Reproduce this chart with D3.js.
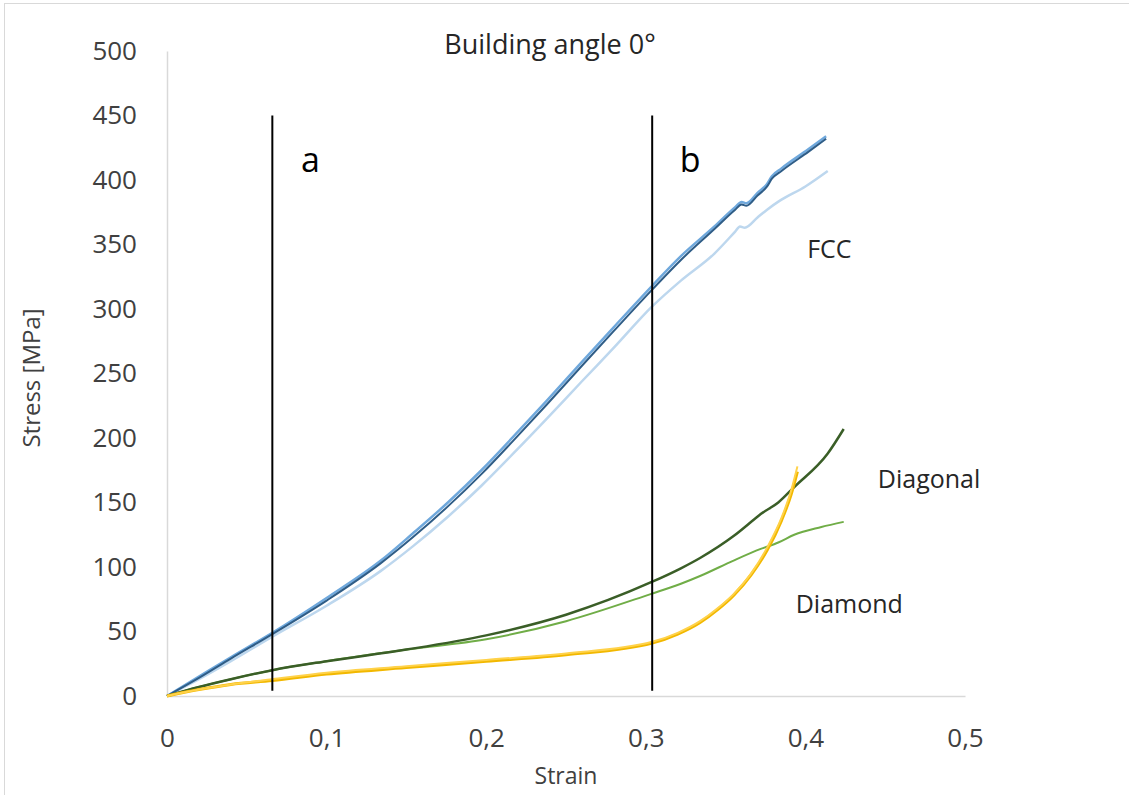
<!DOCTYPE html>
<html>
<head>
<meta charset="utf-8">
<script src="https://cdn.jsdelivr.net/npm/d3@7"></script>
<style>
  body { margin: 0; background: #fff; }
  svg text { font-family: "Open Sans", sans-serif; fill: #404040; }
</style>
</head>
<body>
<div id="wrapper"></div>
<script>
// tick values
const xTicks = [0, 0.1, 0.2, 0.3, 0.4, 0.5];
const yTicks = [0, 50, 100, 150, 200, 250, 300, 350, 400, 450, 500];

// FCC curves
const fccStrain = [0, 0.02, 0.04, 0.066, 0.1, 0.134, 0.154, 0.176, 0.197, 0.217, 0.238, 0.26, 0.28, 0.304, 0.322, 0.343, 0.356, 0.36, 0.363, 0.37, 0.376, 0.379, 0.385, 0.402, 0.413];
const fccDark = [0, 14, 29, 48, 74, 103, 123, 147, 172, 198, 226, 256, 283, 315, 338, 362, 377, 381, 380, 388, 395, 401, 407, 422, 432];
const fccMid = [0, 15, 30, 49, 76, 105, 126, 150, 175, 201, 229, 259, 286, 318, 341, 364, 379, 383, 382, 390, 397, 403, 409, 424, 434];
const fccLightStrain = [0, 0.02, 0.04, 0.066, 0.1, 0.134, 0.154, 0.176, 0.197, 0.217, 0.238, 0.26, 0.28, 0.304, 0.322, 0.343, 0.356, 0.359, 0.362, 0.37, 0.376, 0.384, 0.4, 0.414];
const fccLight = [0, 13, 27, 46, 70, 97, 116, 139, 163, 188, 215, 244, 270, 302, 322, 343, 360, 364, 363, 371, 377, 384, 395, 407];

// Diagonal curves
const diagDarkStrain = [0, 0.02, 0.04, 0.066, 0.1, 0.15, 0.2, 0.25, 0.303, 0.322, 0.334, 0.355, 0.368, 0.372, 0.383, 0.393, 0.414, 0.424];
const diagDark = [0, 7, 13, 20, 27, 36, 47, 63, 88, 99, 107, 124, 137, 141, 150, 162, 188, 207];
const diagLightStrain = [0, 0.02, 0.04, 0.066, 0.1, 0.15, 0.2, 0.25, 0.303, 0.322, 0.334, 0.355, 0.372, 0.383, 0.393, 0.41, 0.424];
const diagLight = [0, 7, 13, 20, 27, 36, 44, 58, 79, 87, 93, 105, 114, 119, 125, 131, 135];

// Diamond curves
const diamStrain = [0, 0.02, 0.04, 0.066, 0.1, 0.15, 0.2, 0.25, 0.304, 0.32, 0.334, 0.345, 0.355, 0.366, 0.376, 0.385, 0.391, 0.395];
const diamA = [0, 5, 9, 13, 18, 23, 28, 33, 42, 49, 58, 68, 79, 95, 115, 138, 159, 178];
const diamB = [0, 5, 9, 12, 17, 22, 27, 32, 41, 48, 57, 67, 78, 94, 113, 136, 156, 174];

// reference lines a, b
const markers = ["a", "b"];
const markerStrain = [0.066, 0.304];
const markerRange = [4, 450];

// curve labels
const curveLabels = ["FCC", "Diagonal", "Diamond"];
const labelStrain = [0.415, 0.4775, 0.4275];
const labelStress = [346, 168, 71];

const dimensions = {
  width: 1129,
  height: 795,
  margin: { top: 51, right: 164, bottom: 99, left: 167 },
};
dimensions.boundedWidth = dimensions.width - dimensions.margin.left - dimensions.margin.right;
dimensions.boundedHeight = dimensions.height - dimensions.margin.top - dimensions.margin.bottom;

const wrapper = d3.select('#wrapper')
  .append('svg')
  .attr('width', dimensions.width)
  .attr('height', dimensions.height);

// faint frame of the exported picture
wrapper.append('rect')
  .attr('x', 4.5).attr('y', 3.5)
  .attr('width', 1200).attr('height', 900)
  .attr('fill', 'none')
  .attr('stroke', '#d9d9d9');

const bounds = wrapper.append('g')
  .attr('transform', `translate(${dimensions.margin.left},${dimensions.margin.top})`);

const xScale = d3.scaleLinear().domain([0, 0.5]).range([0, dimensions.boundedWidth]);
const yScale = d3.scaleLinear().domain([0, 500]).range([dimensions.boundedHeight, 0]);

const locale = d3.formatLocale({ decimal: ',', thousands: '.', grouping: [3], currency: ['', ''] });
const xFormat = d => d === 0 ? '0' : locale.format('.1f')(d);

// axes
const xAxis = bounds.append('g')
  .attr('transform', `translate(0,${dimensions.boundedHeight})`)
  .call(d3.axisBottom(xScale).tickValues(xTicks).tickFormat(xFormat).tickSize(0).tickPadding(30));
const yAxis = bounds.append('g')
  .call(d3.axisLeft(yScale).tickValues(yTicks).tickSize(0).tickPadding(30));

[xAxis, yAxis].forEach(ax => {
  ax.select('.domain').attr('stroke', '#d9d9d9').attr('stroke-width', 1.5);
  ax.selectAll('text')
    .style('font-family', '"Open Sans", sans-serif')
    .style('font-size', '26px')
    .attr('fill', '#404040');
});
xAxis.selectAll('text').attr('dy', '0.32em').attr('y', 43);

// series
const line = d3.line()
  .x(d => xScale(d[0]))
  .y(d => yScale(d[1]))
  .curve(d3.curveMonotoneX);

const series = [
  { strain: fccLightStrain, stress: fccLight, color: '#bdd7ee', width: 2.5 },
  { strain: fccStrain, stress: fccMid, color: '#6fa8dc', width: 2.5 },
  { strain: fccStrain, stress: fccDark, color: '#2f5d87', width: 2 },
  { strain: diagLightStrain, stress: diagLight, color: '#70ad47', width: 2 },
  { strain: diagDarkStrain, stress: diagDark, color: '#3a5e27', width: 2.5 },
  { strain: diamStrain, stress: diamB, color: '#f2b800', width: 3 },
  { strain: diamStrain, stress: diamA, color: '#ffd24a', width: 2 },
];

series.forEach(s => {
  bounds.append('path')
    .attr('d', line(s.strain.map((x, i) => [x, s.stress[i]])))
    .attr('fill', 'none')
    .attr('stroke', s.color)
    .attr('stroke-width', s.width)
    .attr('stroke-linejoin', 'round');
});

// vertical lines a and b
markers.forEach((m, i) => {
  bounds.append('line')
    .attr('x1', xScale(markerStrain[i])).attr('x2', xScale(markerStrain[i]))
    .attr('y1', yScale(markerRange[0])).attr('y2', yScale(markerRange[1]))
    .attr('stroke', '#000')
    .attr('stroke-width', 2);
  bounds.append('text')
    .attr('x', xScale(markerStrain[i]) + 38)
    .attr('y', yScale(markerRange[1]) + 56)
    .attr('text-anchor', 'middle')
    .style('font-size', '34px')
    .style('fill', '#000')
    .text(m);
});

// curve labels
curveLabels.forEach((t, i) => {
  bounds.append('text')
    .attr('x', xScale(labelStrain[i]))
    .attr('y', yScale(labelStress[i]))
    .attr('text-anchor', 'middle')
    .attr('dy', '0.35em')
    .style('font-size', '25px')
    .style('fill', '#262626')
    .text(t);
});

// title and axis titles
wrapper.append('text')
  .attr('x', 550).attr('y', 54)
  .attr('text-anchor', 'middle')
  .style('font-size', '27px')
  .style('fill', '#262626')
  .text('Building angle 0°');

wrapper.append('text')
  .attr('x', 566)
  .attr('y', 784)
  .attr('text-anchor', 'middle')
  .style('font-size', '23px')
  .text('Strain');

wrapper.append('text')
  .attr('transform', `translate(40,378) rotate(-90)`)
  .attr('text-anchor', 'middle')
  .style('font-size', '24px')
  .text('Stress [MPa]');
</script>
</body>
</html>
